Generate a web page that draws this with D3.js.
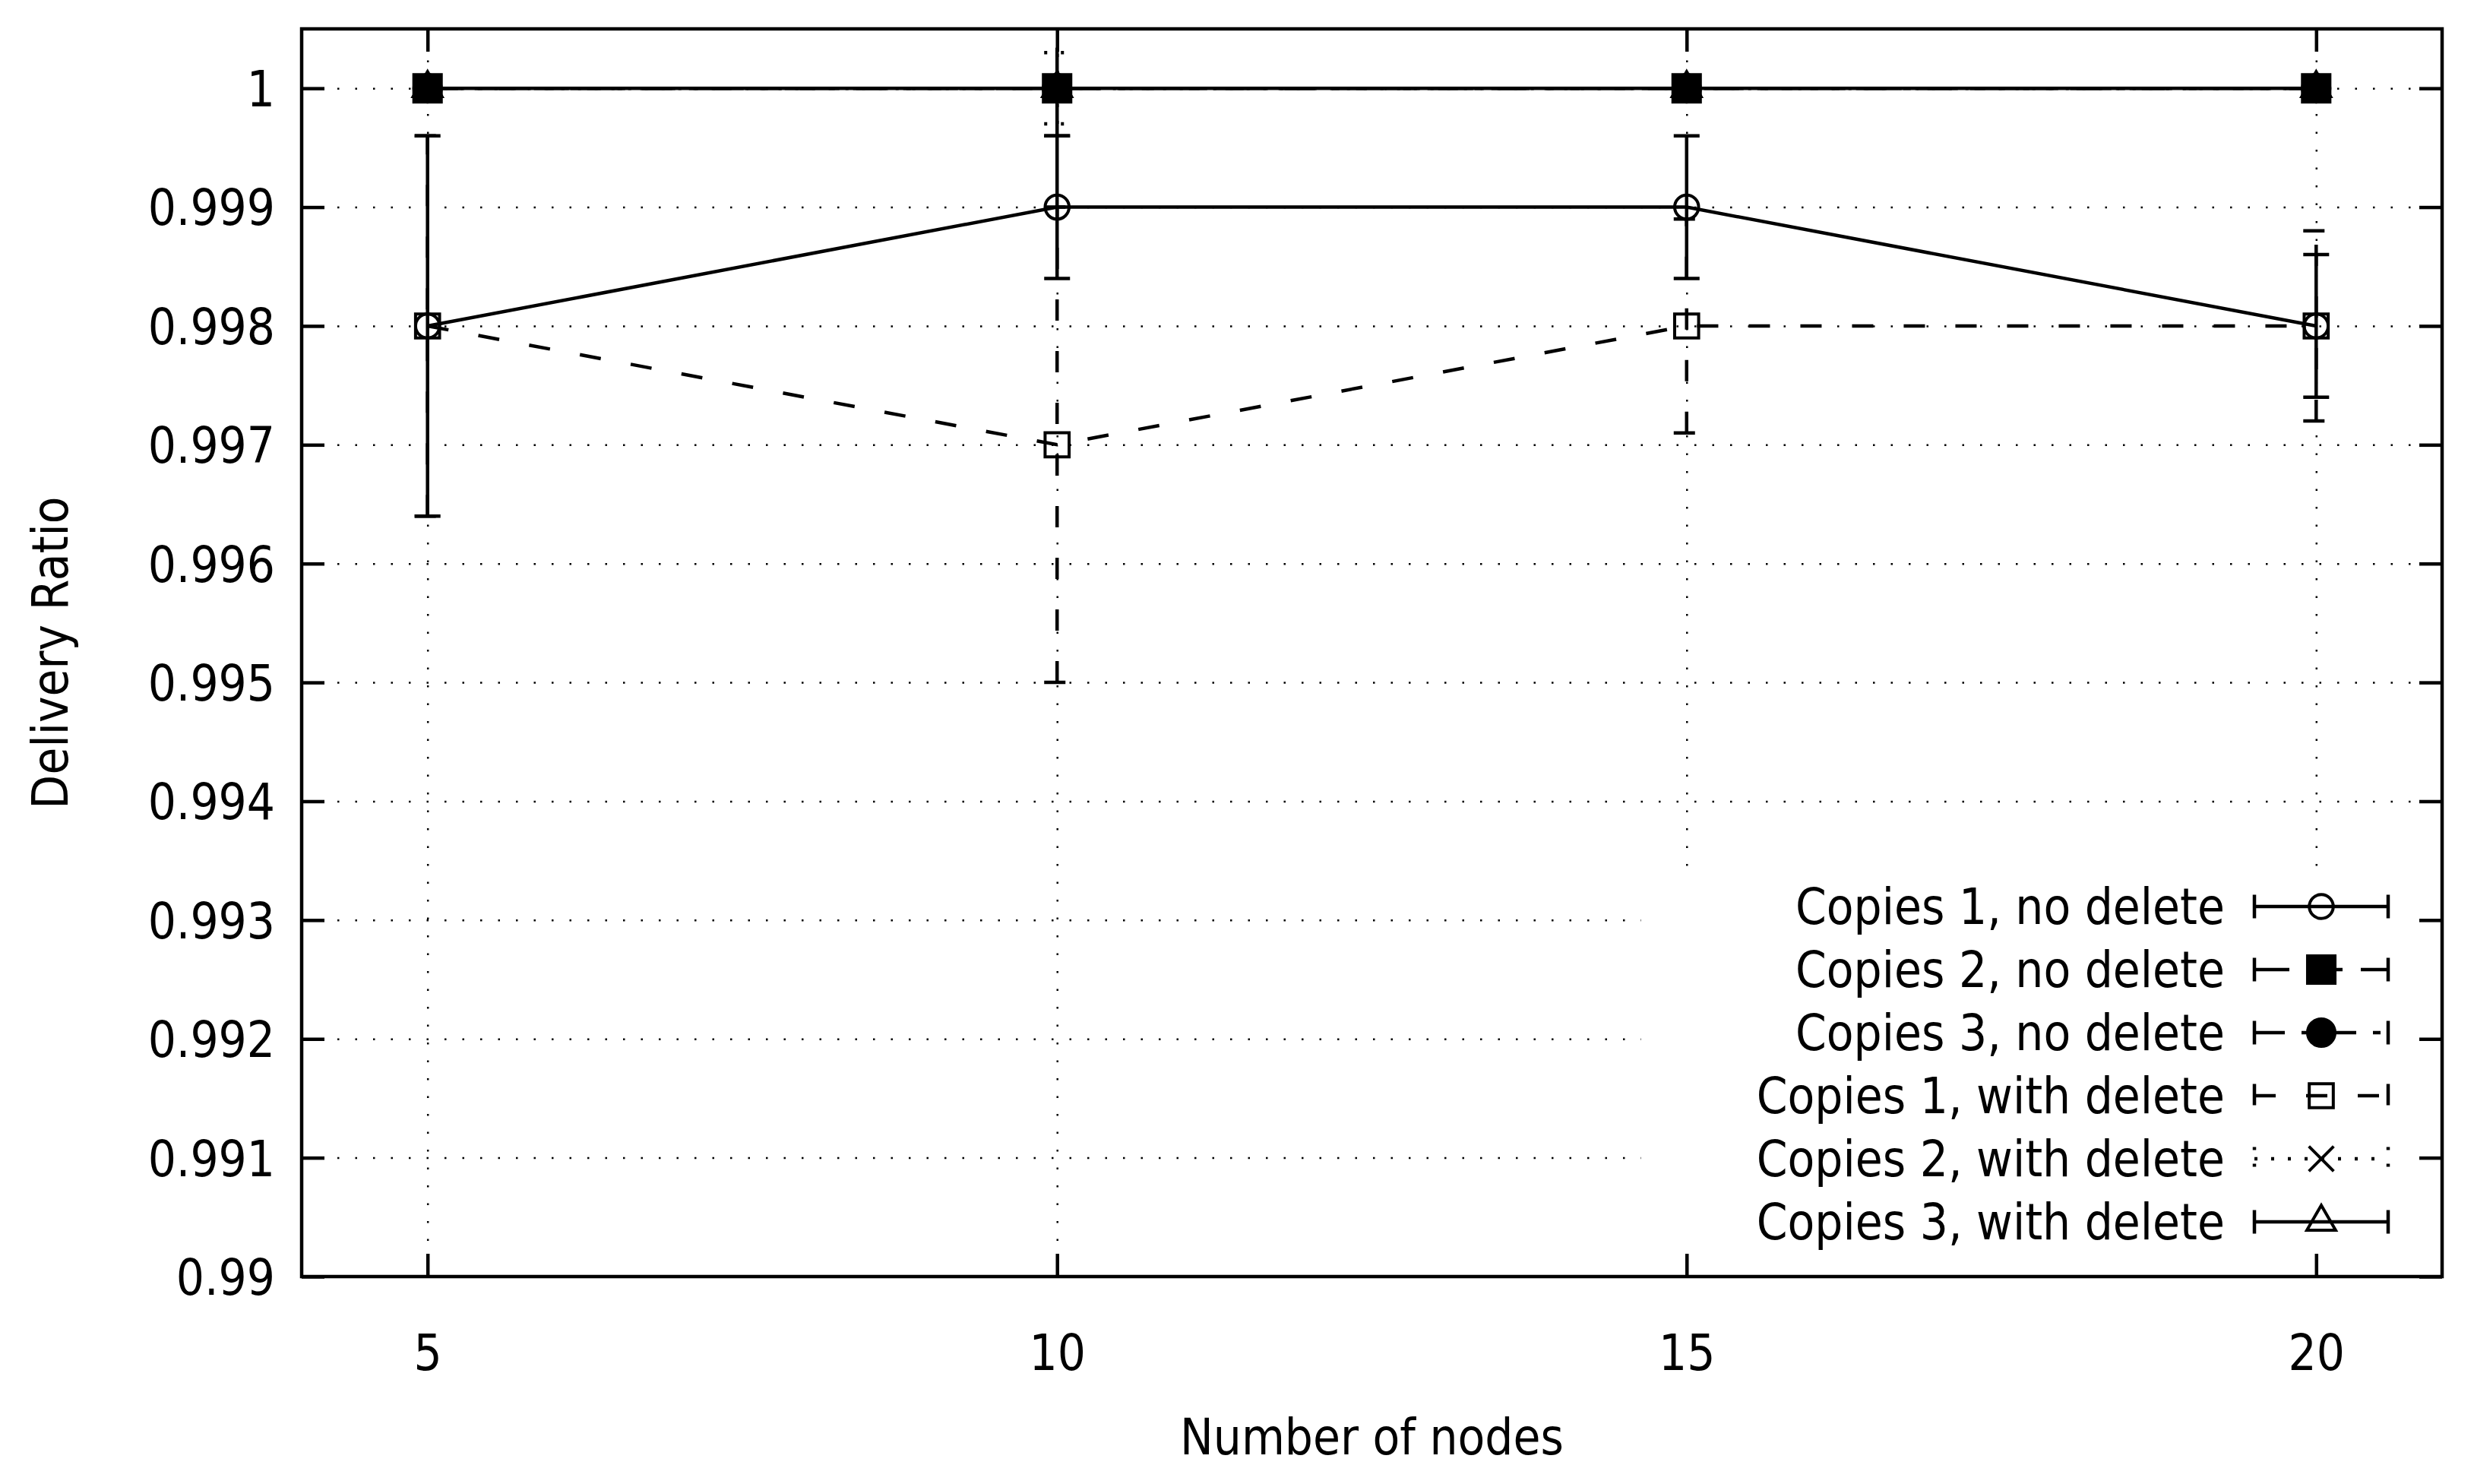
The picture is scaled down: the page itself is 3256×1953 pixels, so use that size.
<!DOCTYPE html>
<html>
<head>
<meta charset="utf-8">
<title>Delivery Ratio vs Number of nodes</title>
<script src="https://d3js.org/d3.v7.min.js"></script>
<style>
  body { margin: 0; background: #fff; }
  svg text { font-family: "DejaVu Sans Condensed", "DejaVu Sans", sans-serif; font-stretch: condensed; fill: #000; }
</style>
</head>
<body>
<svg id="chart" width="3256" height="1953"></svg>
<script>
// ---- data ----
const nodes = [5, 10, 15, 20];
const xTicks = [5, 10, 15, 20];
const yTicks = [0.99, 0.991, 0.992, 0.993, 0.994, 0.995, 0.996, 0.997, 0.998, 0.999, 1];
const yTickLabels = ["0.99", "0.991", "0.992", "0.993", "0.994", "0.995", "0.996", "0.997", "0.998", "0.999", "1"];

const seriesNames = [
    "Copies 1, no delete",
    "Copies 2, no delete",
    "Copies 3, no delete",
    "Copies 1, with delete",
    "Copies 2, with delete",
    "Copies 3, with delete"
];

// Copies 1, no delete
const c1NoDel     = [0.998, 0.999, 0.999, 0.998];
const c1NoDelLow  = [0.9964, 0.9984, 0.9984, 0.9974];
const c1NoDelHigh = [0.9996, 0.9996, 0.9996, 0.9986];
// Copies 2, no delete
const c2NoDel     = [1, 1, 1, 1];
const c2NoDelLow  = [1, 0.9996, 1, 1];
const c2NoDelHigh = [1, 1.0008, 1, 1];
// Copies 3, no delete
const c3NoDel     = [1, 1, 1, 1];
const c3NoDelLow  = [1, 1, 1, 1];
const c3NoDelHigh = [1, 1, 1, 1];
// Copies 1, with delete
const c1Del     = [0.998, 0.997, 0.998, 0.998];
const c1DelLow  = [0.9964, 0.995, 0.9971, 0.9972];
const c1DelHigh = [0.9996, 0.999, 0.9989, 0.9988];
// Copies 2, with delete
const c2Del     = [1, 1, 1, 1];
const c2DelLow  = [1, 0.9997, 1, 1];
const c2DelHigh = [1, 1.0003, 1, 1];
// Copies 3, with delete
const c3Del     = [1, 1, 1, 1];
const c3DelLow  = [1, 1, 1, 1];
const c3DelHigh = [1, 1, 1, 1];

// ---- styles (gnuplot look) ----
const dashes  = [null, "46,24", "40,22,10,22", "28,40", "4,18", null];
const symbols = [d3.symbolCircle, d3.symbolSquare, d3.symbolCircle, d3.symbolSquare, d3.symbolTimes, d3.symbolTriangle];
const symSize = [780, 1300, 1020, 1000, 700, 620];
const filled  = [false, true, true, false, false, false];

const series = [
    [c1NoDel, c1NoDelLow, c1NoDelHigh],
    [c2NoDel, c2NoDelLow, c2NoDelHigh],
    [c3NoDel, c3NoDelLow, c3NoDelHigh],
    [c1Del, c1DelLow, c1DelHigh],
    [c2Del, c2DelLow, c2DelHigh],
    [c3Del, c3DelLow, c3DelHigh]
].map((s, i) => ({
    name: seriesNames[i],
    points: nodes.map((n, j) => ({ x: n, y: s[0][j], lo: s[1][j], hi: s[2][j] }))
}));

const plotL = 397, plotR = 3214, plotT = 38, plotB = 1680;
const fontSize = 65;
const capHalf = 17;

const svg = d3.select("#chart");

const x = d3.scaleLinear().domain([4, 21]).range([plotL, plotR]);
const y = d3.scaleLinear().domain([0.99, 1.0005]).range([plotB, plotT]);

svg.append("defs").append("clipPath").attr("id", "plot-clip")
    .append("rect")
    .attr("x", plotL).attr("y", plotT)
    .attr("width", plotR - plotL).attr("height", plotB - plotT);

// grid lines (dotted)
const gridY = svg.append("g")
    .attr("transform", `translate(${plotL},0)`)
    .call(d3.axisLeft(y).tickValues(yTicks).tickSize(-(plotR - plotL)).tickFormat(""));
const gridX = svg.append("g")
    .attr("transform", `translate(0,${plotB})`)
    .call(d3.axisBottom(x).tickValues(xTicks).tickSize(-(plotB - plotT)).tickFormat(""));
[gridX, gridY].forEach(g => {
    g.select(".domain").remove();
    g.selectAll("line")
        .attr("stroke", "#000")
        .attr("stroke-width", 2.5)
        .attr("stroke-dasharray", "2.5,21");
});

// data
const plot = svg.append("g").attr("clip-path", "url(#plot-clip)");
const line = d3.line().x(d => x(d.x)).y(d => y(d.y));

function errPath(d) {
    const cx = x(d.x), y0 = y(d.lo), y1 = y(d.hi);
    return `M${cx},${y0}V${y1}M${cx - capHalf},${y0}H${cx + capHalf}M${cx - capHalf},${y1}H${cx + capHalf}`;
}

series.forEach((s, i) => {
    const g = plot.append("g");
    g.append("path")
        .attr("d", line(s.points))
        .attr("fill", "none")
        .attr("stroke", "#000")
        .attr("stroke-width", 4.5)
        .attr("stroke-dasharray", dashes[i]);
    g.selectAll(".err")
        .data(s.points)
        .join("path")
        .attr("class", "err")
        .attr("d", errPath)
        .attr("fill", "none")
        .attr("stroke", "#000")
        .attr("stroke-width", 4.5)
        .attr("stroke-dasharray", dashes[i]);
});

// markers on top, the filled square last so it hides the ones at 1
[0, 2, 3, 4, 5, 1].forEach(i => {
    plot.append("g").selectAll("path")
        .data(series[i].points)
        .join("path")
        .attr("transform", d => `translate(${x(d.x)},${y(d.y)})`)
        .attr("d", d3.symbol(symbols[i], symSize[i]))
        .attr("fill", filled[i] ? "#000" : "none")
        .attr("stroke", "#000")
        .attr("stroke-width", 4);
});

// legend (opaque box)
const legendTop = 1193, legendStep = 83;
const textX = 2928, sampleL = 2967, sampleR = 3143, sampleMid = 3055;
svg.append("rect")
    .attr("x", 2160).attr("y", 1155)
    .attr("width", 1018).attr("height", 485)
    .attr("fill", "#fff");

const legend = svg.append("g");
series.forEach((s, i) => {
    const ly = legendTop + i * legendStep;
    legend.append("text")
        .attr("x", textX).attr("y", ly)
        .attr("dy", "0.36em")
        .attr("text-anchor", "end")
        .attr("font-size", fontSize)
        .text(s.name);
    legend.append("path")
        .attr("d", `M${sampleL},${ly}H${sampleR}M${sampleL},${ly - 15.5}V${ly + 15.5}M${sampleR},${ly - 15.5}V${ly + 15.5}`)
        .attr("fill", "none")
        .attr("stroke", "#000")
        .attr("stroke-width", 4.5)
        .attr("stroke-dasharray", dashes[i]);
    legend.append("path")
        .attr("transform", `translate(${sampleMid},${ly})`)
        .attr("d", d3.symbol(symbols[i], symSize[i]))
        .attr("fill", filled[i] ? "#000" : "none")
        .attr("stroke", "#000")
        .attr("stroke-width", 4);
});

// axes: inward ticks on all four sides, labels left and bottom
const axisL = svg.append("g")
    .attr("transform", `translate(${plotL},0)`)
    .call(d3.axisLeft(y).tickValues(yTicks).tickSize(-30).tickPadding(35)
        .tickFormat((d, i) => yTickLabels[i]));
const axisR = svg.append("g")
    .attr("transform", `translate(${plotR},0)`)
    .call(d3.axisRight(y).tickValues(yTicks).tickSize(-30).tickFormat(""));
const axisB = svg.append("g")
    .attr("transform", `translate(0,${plotB})`)
    .call(d3.axisBottom(x).tickValues(xTicks).tickSize(-30).tickPadding(77));
const axisT = svg.append("g")
    .attr("transform", `translate(0,${plotT})`)
    .call(d3.axisTop(x).tickValues(xTicks).tickSize(-30).tickFormat(""));

[axisL, axisR, axisB, axisT].forEach(g => {
    g.select(".domain").remove();
    g.selectAll("line").attr("stroke", "#000").attr("stroke-width", 4.5);
    g.selectAll("text")
        .attr("font-size", fontSize)
        .style("font-family", "'DejaVu Sans Condensed', 'DejaVu Sans', sans-serif");
});
axisL.selectAll("text").attr("dy", "0.36em");

// border
svg.append("rect")
    .attr("x", plotL).attr("y", plotT)
    .attr("width", plotR - plotL).attr("height", plotB - plotT)
    .attr("fill", "none")
    .attr("stroke", "#000")
    .attr("stroke-width", 4.5);

// axis titles
svg.append("text")
    .attr("x", (plotL + plotR) / 2).attr("y", 1914)
    .attr("text-anchor", "middle")
    .attr("font-size", fontSize)
    .text("Number of nodes");

svg.append("text")
    .attr("transform", `translate(89,${(plotT + plotB) / 2}) rotate(-90)`)
    .attr("text-anchor", "middle")
    .attr("font-size", fontSize)
    .text("Delivery Ratio");
</script>
</body>
</html>
